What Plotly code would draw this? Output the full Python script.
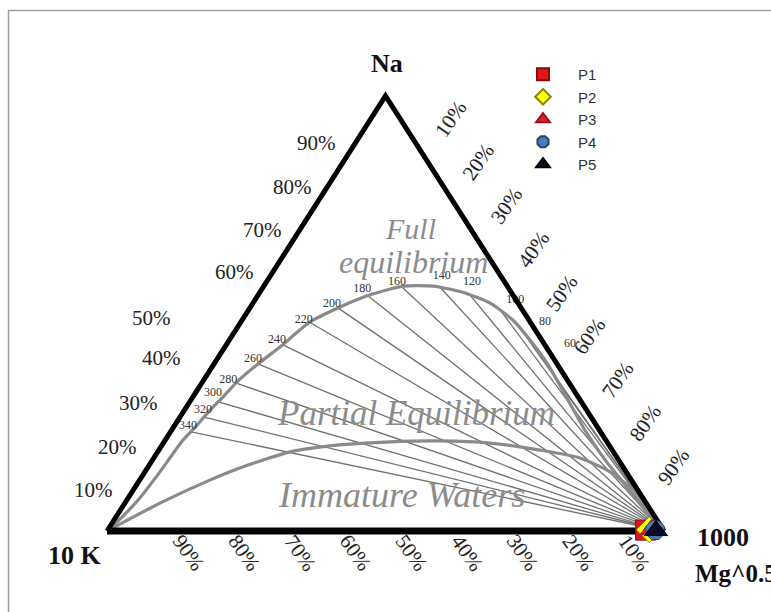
import plotly.graph_objects as go

W, H = 771, 612
# pixel frame of the triangle (layout only)
X_K, X_MG, Y_BASE, Y_TOP = 107, 664, 531, 96
SX = X_MG - X_K
SY = Y_BASE - Y_TOP

# ---------------- data (compositions in %, K = 100 - Na - Mg) ----------------
full_eq_na = [0, 3.2, 7.6, 13.6, 20.9, 24.4, 27.8, 30.8, 34.3, 38.4, 42.3, 48.0, 51.5,
              54.3, 56.3, 56.3, 54.9, 52.4, 48.5, 43.9, 38.2, 31.3, 23.2, 16.3, 10.6, 4.8, 0]
full_eq_mg = [0, 1.1, 2.1, 2.7, 3.2, 4.0, 4.6, 5.4, 6.2, 7.9, 9.9, 12.4, 16.1,
              20.1, 25.0, 30.4, 36.4, 42.6, 48.6, 54.0, 60.1, 66.6, 74.2, 81.3, 87.7, 94.2, 100]

immature_na = [0, 6.4, 11.7, 14.5, 18.2, 19.8, 20.5, 20.7, 20.2, 18.6, 16.8, 13.6, 9.0, 3.7, 0]
immature_mg = [0, 6.3, 12.6, 16.6, 23.8, 31.9, 40.6, 49.4, 58.7, 68.4, 76.5, 83.5, 90.3, 96.0, 100]

iso_temps = [340, 320, 300, 280, 260, 240, 220, 200, 180, 160, 140, 120, 100, 80, 60]
iso_na = [22.8, 26.2, 29.7, 34.0, 38.4, 42.8, 48.0, 51.3, 54.0, 56.1, 56.1, 54.3, 50.8, 46.0, 40.5]
iso_mg = [3.7, 4.3, 5.1, 6.2, 7.9, 10.2, 12.4, 15.8, 19.9, 24.9, 31.7, 38.0, 45.2, 51.5, 57.5]

samples = ["P1", "P2", "P3", "P4", "P5"]
sample_na = [0.2, 0.3, 0.3, 0.2, 0.1]
sample_k = [3.2, 2.5, 2.1, 1.5, 1.4]
sample_mg = [96.6, 97.2, 97.6, 98.3, 98.5]

edge_ticks = [10, 20, 30, 40, 50, 60, 70, 80, 90]
tick_labels = ["10%", "20%", "30%", "40%", "50%", "60%", "70%", "80%", "90%"]

# ---------------- styles / layout constants ----------------
sample_symbols = ["square", "diamond", "triangle-up", "octagon", "triangle-up"]
sample_colors = ["#e2141c", "#ffff10", "#d9232e", "#4a7ebb", "#0a0a26"]
sample_lines = ["#8a0a0a", "#8a8a00", "#9a1018", "#26466e", "#000000"]

iso_label_off = [(-3, -6), (-1, -7), (-5, -9), (-8, -3), (-5, -5), (-6, -5), (-6, -2),
                 (-6, -4), (-6, -7), (-5, -5), (2, -11), (2, -13), (15, -10), (23, -9), (30, -11)]
left_off = [(-41, 2), (-45, 3), (-52, 2), (-57, 1), (-95, 4), (-40, 2), (-39, 3), (-37, 4), (-41, 3)]
right_off = (37, -21)
bottom_off = (26, 22)


def tern(na, mg):
    """composition (%) -> cartesian triangle coordinates"""
    return (mg + na / 2.0) / 100.0, na / 100.0


def conv(na_list, mg_list):
    xs, ys = [], []
    for a, m in zip(na_list, mg_list):
        x, y = tern(a, m)
        xs.append(x)
        ys.append(y)
    return xs, ys


fig = go.Figure()

# isotherm tie lines radiating to the Mg vertex
mgx, mgy = tern(0, 100)
tx, ty = [], []
for a, m in zip(iso_na, iso_mg):
    x, y = tern(a, m)
    tx += [x, mgx, None]
    ty += [y, mgy, None]
fig.add_trace(go.Scatter(x=tx, y=ty, mode="lines", line=dict(color="#707070", width=1.3),
                         hoverinfo="skip", showlegend=False))

# full equilibrium and immature curves
fx, fy = conv(full_eq_na, full_eq_mg)
fig.add_trace(go.Scatter(x=fx, y=fy, mode="lines", line=dict(color="#8a8a8a", width=3.2, shape="spline", smoothing=0.6),
                         hoverinfo="skip", showlegend=False))
ix, iy = conv(immature_na, immature_mg)
fig.add_trace(go.Scatter(x=ix, y=iy, mode="lines", line=dict(color="#8a8a8a", width=3.2, shape="spline", smoothing=0.6),
                         hoverinfo="skip", showlegend=False))

# temperature labels
lx, ly = [], []
for (a, m), (dx, dy) in zip(zip(iso_na, iso_mg), iso_label_off):
    x, y = tern(a, m)
    lx.append(x + dx / SX)
    ly.append(y - dy / SY)
fig.add_trace(go.Scatter(x=lx, y=ly, mode="text", text=[str(t) for t in iso_temps],
                         textfont=dict(family="Liberation Serif", size=12, color="#333333"),
                         hoverinfo="skip", showlegend=False))

# triangle edges
kx, ky = tern(0, 0)
nx, ny = tern(100, 0)
fig.add_trace(go.Scatter(x=[kx, nx, mgx], y=[ky, ny, mgy], mode="lines",
                         line=dict(color="#000000", width=5), hoverinfo="skip", showlegend=False))
fig.add_trace(go.Scatter(x=[kx, mgx], y=[ky, mgy], mode="lines",
                         line=dict(color="#000000", width=7), hoverinfo="skip", showlegend=False))

# samples
for i, name in enumerate(samples):
    x, y = tern(sample_na[i], sample_mg[i])
    fig.add_trace(go.Scatter(
        x=[x], y=[y], mode="markers", name=name,
        marker=dict(symbol=sample_symbols[i], size=20, color=sample_colors[i],
                    line=dict(color=sample_lines[i], width=1)),
    ))

ann = []
SERIF = "Liberation Serif"
TICKFONT = dict(family=SERIF, size=21, color="#222")
# left edge (Na) labels
for t, lab, (dx, dy) in zip(edge_ticks, tick_labels, left_off):
    x, y = tern(t, 0)
    ann.append(dict(x=x, y=y, xref="x", yref="y", text=lab, showarrow=False,
                    xshift=dx, yshift=-dy, font=TICKFONT))
# right edge labels (rotated up)
for t, lab in zip(edge_ticks, tick_labels):
    x, y = tern(100 - t, t)
    ann.append(dict(x=x, y=y, xref="x", yref="y", text=lab, showarrow=False, textangle=-55,
                    xshift=right_off[0], yshift=-right_off[1], font=TICKFONT))
# bottom edge labels (rotated down), 90% near K corner
for t, lab in zip(edge_ticks[::-1], tick_labels[::-1]):
    x, y = tern(0, 100 - t)
    ann.append(dict(x=x, y=y, xref="x", yref="y", text=lab, showarrow=False, textangle=55,
                    xshift=bottom_off[0], yshift=-bottom_off[1], font=TICKFONT))


def P(px, py):
    return px / W, 1 - py / H


def txt(px, py, s, size, bold=False, italic=False, color="#111", xanchor="center"):
    x, y = P(px, py)
    if bold:
        s = "<b>" + s + "</b>"
    if italic:
        s = "<i>" + s + "</i>"
    ann.append(dict(x=x, y=y, xref="paper", yref="paper", text=s, showarrow=False,
                    xanchor=xanchor, yanchor="middle", font=dict(family=SERIF, size=size, color=color)))


txt(387, 64, "Na", 26, bold=True)
txt(75, 555, "10 K", 26, bold=True)
txt(695, 537, "1000", 26, bold=True, xanchor="left")
txt(693, 573, "Mg^0.5", 25, bold=True, xanchor="left")

GRAY = "#8c8c8c"
txt(410, 228, "Full", 30, italic=True, color=GRAY)
txt(413, 262, "equilibrium", 32, italic=True, color=GRAY)
txt(416, 413, "Partial Equilibrium", 35, italic=True, color=GRAY)
txt(401, 495, "Immature Waters", 36, italic=True, color=GRAY)

fig.update_layout(
    width=W, height=H,
    margin=dict(l=0, r=0, t=0, b=0),
    paper_bgcolor="white", plot_bgcolor="white",
    xaxis=dict(range=[-X_K / SX, (W - X_K) / SX], visible=False, fixedrange=True),
    yaxis=dict(range=[(Y_BASE - H) / SY, Y_BASE / SY], visible=False, fixedrange=True),
    annotations=ann,
    showlegend=True,
    legend=dict(x=508 / W, y=1 - 58 / H, xanchor="left", yanchor="top",
                itemsizing="constant", itemwidth=60, bgcolor="rgba(0,0,0,0)",
                font=dict(family="Liberation Sans", size=15, color="#333")),
    shapes=[dict(type="rect", xref="paper", yref="paper",
                 x0=8.5 / W, x1=1.05, y0=-0.05, y1=1 - 10.5 / H,
                 line=dict(color="#a0a0a0", width=1.5))],
)

fig.write_html("out.html", config={"displayModeBar": False},
               post_script="document.body.style.margin='0';document.body.style.overflow='hidden';")
